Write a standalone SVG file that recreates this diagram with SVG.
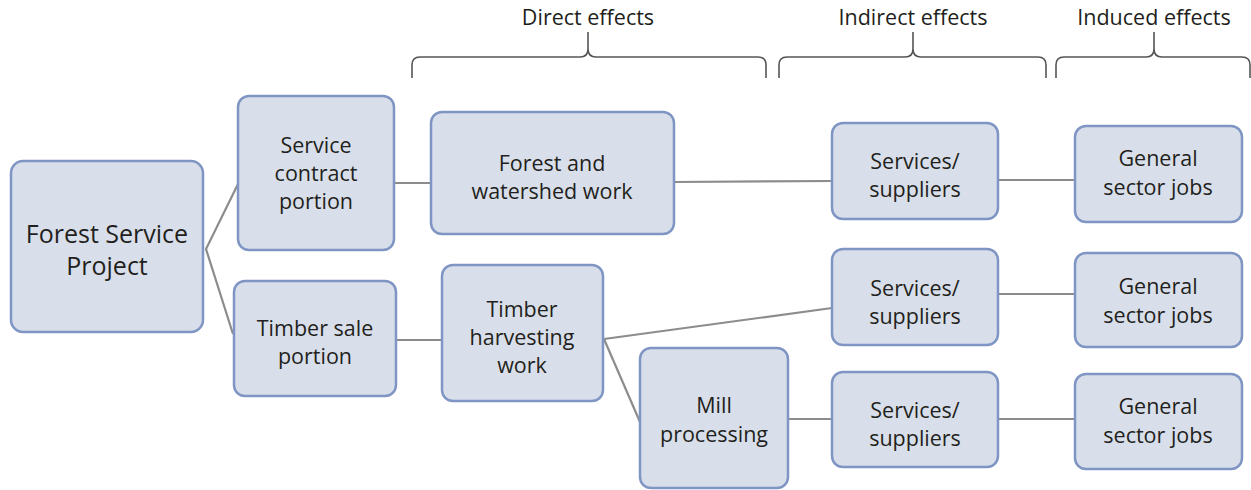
<svg xmlns="http://www.w3.org/2000/svg" width="1251" height="490" viewBox="0 0 1251 490">
<style>
.node rect{fill:#d9dfea;stroke:#7f95c3;stroke-width:2.5}
.node text{font-family:"Open Sans","Liberation Sans",sans-serif;font-size:21.5px;fill:#231f20;text-anchor:middle}
.node text.big{font-size:25px}
#connectors line,#connectors polyline{stroke:#8c8c8c;stroke-width:2.2;fill:none}
.brace{fill:none;stroke:#555;stroke-width:1.6}
.hdr{font-family:"Open Sans","Liberation Sans",sans-serif;font-size:21.5px;fill:#231f20;text-anchor:middle}
</style>
<rect width="1251" height="490" fill="#fff"/>
<g id="headers">
<text class="hdr" x="588" y="25">Direct effects</text>
<path class="brace" d="M412,78 V65 Q412,57 420,57 H580 Q588,57 588,49 V32 M588,32 V49 Q588,57 596,57 H758 Q766,57 766,65 V78"/>
<text class="hdr" x="913" y="25">Indirect effects</text>
<path class="brace" d="M779,78 V65 Q779,57 787,57 H905 Q913,57 913,49 V32 M913,32 V49 Q913,57 921,57 H1038 Q1046,57 1046,65 V78"/>
<text class="hdr" x="1154" y="25">Induced effects</text>
<path class="brace" d="M1056,78 V65 Q1056,57 1064,57 H1146 Q1154,57 1154,49 V32 M1154,32 V49 Q1154,57 1162,57 H1242 Q1250,57 1250,65 V78"/>
</g>
<g id="connectors">
<polyline points="238,184 206,249 233,334"/>
<line x1="394" y1="183" x2="431" y2="183"/>
<line x1="396" y1="340" x2="442" y2="340"/>
<line x1="674" y1="182" x2="832" y2="181"/>
<line x1="604" y1="339" x2="832" y2="308"/>
<line x1="604" y1="339" x2="640" y2="422"/>
<line x1="788" y1="419" x2="832" y2="419"/>
<line x1="998" y1="180" x2="1075" y2="180"/>
<line x1="998" y1="294" x2="1075" y2="294"/>
<line x1="998" y1="419" x2="1075" y2="419"/>
</g>
<g id="fsp" class="node"><rect x="11" y="161" width="192" height="171" rx="12"/><text class="big" x="107" y="243">Forest Service</text><text class="big" x="107" y="275">Project</text></g>
<g id="service-contract" class="node"><rect x="238" y="96" width="156" height="154" rx="11"/><text x="316" y="153">Service</text><text x="316" y="181">contract</text><text x="316" y="209">portion</text></g>
<g id="timber-sale" class="node"><rect x="234" y="281" width="162" height="115" rx="11"/><text x="315" y="336">Timber sale</text><text x="315" y="364">portion</text></g>
<g id="forest-watershed" class="node"><rect x="431" y="112" width="243" height="122" rx="11"/><text x="552" y="171">Forest and</text><text x="552" y="199">watershed work</text></g>
<g id="timber-harvesting" class="node"><rect x="442" y="265" width="161" height="136" rx="11"/><text x="522" y="317">Timber</text><text x="522" y="345">harvesting</text><text x="522" y="373">work</text></g>
<g id="mill" class="node"><rect x="640" y="348" width="148" height="140" rx="11"/><text x="714" y="413">Mill</text><text x="714" y="442">processing</text></g>
<g id="ss1" class="node"><rect x="832" y="123" width="166" height="96" rx="11"/><text x="915" y="169">Services/</text><text x="915" y="197">suppliers</text></g>
<g id="ss2" class="node"><rect x="832" y="249" width="166" height="96" rx="11"/><text x="915" y="296">Services/</text><text x="915" y="324">suppliers</text></g>
<g id="ss3" class="node"><rect x="832" y="372" width="166" height="95" rx="11"/><text x="915" y="418">Services/</text><text x="915" y="446">suppliers</text></g>
<g id="g1" class="node"><rect x="1075" y="126" width="167" height="96" rx="11"/><text x="1158" y="166">General</text><text x="1158" y="195">sector jobs</text></g>
<g id="g2" class="node"><rect x="1075" y="253" width="167" height="94" rx="11"/><text x="1158" y="294">General</text><text x="1158" y="323">sector jobs</text></g>
<g id="g3" class="node"><rect x="1075" y="374" width="167" height="95" rx="11"/><text x="1158" y="414">General</text><text x="1158" y="443">sector jobs</text></g>
</svg>
